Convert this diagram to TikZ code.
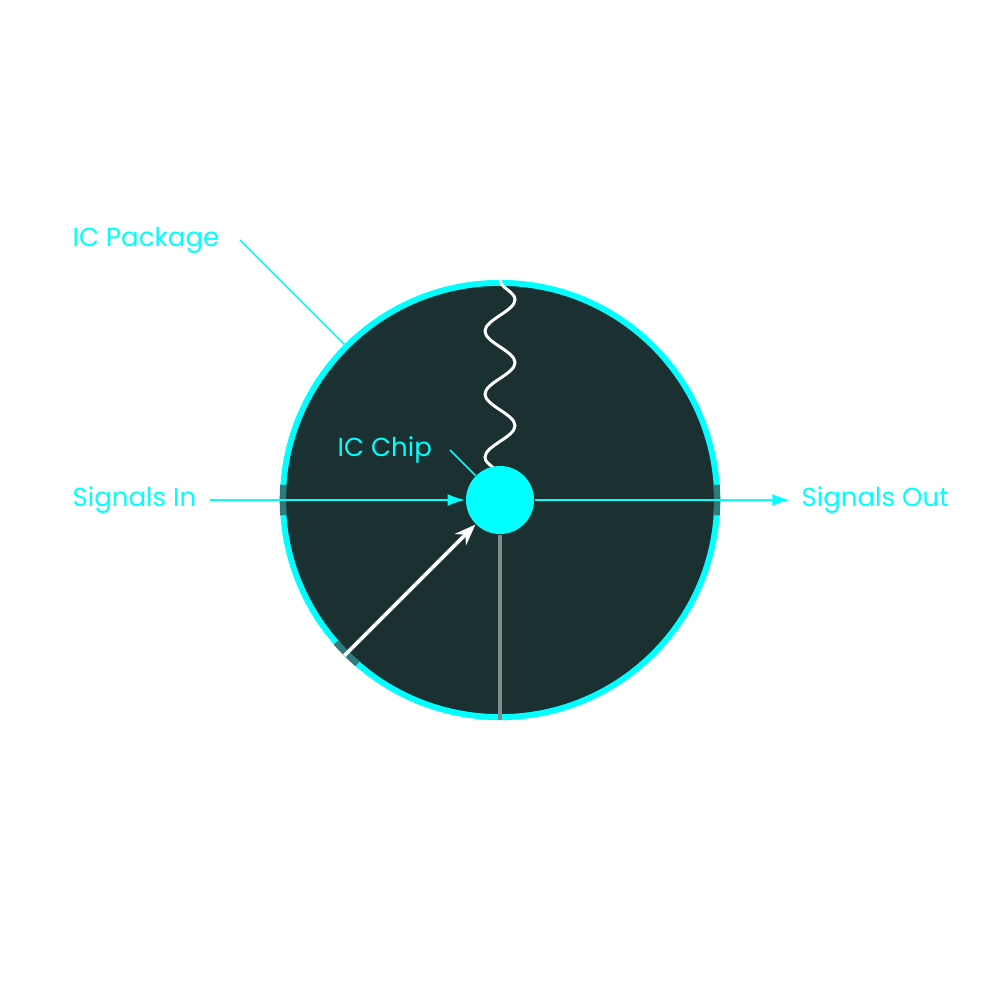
\documentclass[tikz,border=0pt]{standalone}
\usepackage{fontspec}
\setmainfont{Poppins}
\usetikzlibrary{arrows.meta,decorations.pathmorphing}
\definecolor{icCyan}{HTML}{00FFFF}
\definecolor{icDark}{HTML}{1B3031}
\definecolor{icPort}{HTML}{2D7B7B}
\definecolor{icGrey}{HTML}{7F8C8A}
\tikzset{
  label text/.style={font=\fontsize{7.4}{9}\selectfont, text=icCyan, anchor=west, inner sep=0pt},
  leader/.style={draw=icCyan, line width=0.5pt},
  signal/.style={draw=icCyan, line width=0.6pt, -{Latex[length=5pt,width=3.4pt]}},
  port/.style={draw=icPort, line width=1.8pt}
}
\begin{document}
\begin{tikzpicture}[x=0.01cm, y=-0.01cm]
    \useasboundingbox (0,0) rectangle (1000,1000);
    % Package body
    \node[circle, draw=icCyan, fill=icDark, line width=1.7pt, inner sep=0pt,
          minimum size=4.34cm] (pkg) at (500,500) {};
    % Ports on the rim where the lines pass
    \draw[port] (pkg.center) ++(176:2.17cm) arc[start angle=176, end angle=184, radius=2.17cm];
    \draw[port] (pkg.center) ++(-4:2.17cm) arc[start angle=-4, end angle=4, radius=2.17cm];
    \draw[port] (pkg.center) ++(221:2.17cm) arc[start angle=221, end angle=229, radius=2.17cm];
    % Heat path, runs in under the chip
    \draw[white, line width=0.85pt, decorate,
          decoration={snake, amplitude=0.15cm, segment length=0.63cm}]
          (pkg.north) -- (pkg.center);
    % The chip in the middle
    \node[circle, fill=icCyan, inner sep=0pt, minimum size=0.68cm] (chip) at (pkg.center) {};
    % Labels
    \node[label text] (pkglabel) at (72,240) {IC Package};
    \node[label text] (chiplabel) at (337,450) {IC Chip};
    \node[label text] (inlabel) at (72,500) {Signals In};
    \node[label text] (outlabel) at (801,500) {Signals Out};
    \coordinate (pkgtip) at (240,240);
    \coordinate (chiptip) at (450,450);
    \coordinate (instart) at (210,500);
    \coordinate (outend) at (790,500);
    % Leaders
    \draw[leader] (pkgtip) -- (pkg.135);
    \draw[leader] (chiptip) -- (chip.135);
    % Signal lines
    \draw[signal] (instart) -- (chip.west);
    \draw[signal] (chip.east) -- (outend);
    % Bond wire and ground
    \draw[white, line width=1.1pt, -{Stealth[length=6pt,width=4.5pt]}] (pkg.225) -- (chip.225);
    \draw[icGrey, line width=1.1pt] (chip.south) -- (pkg.south);
\end{tikzpicture}
\end{document}
